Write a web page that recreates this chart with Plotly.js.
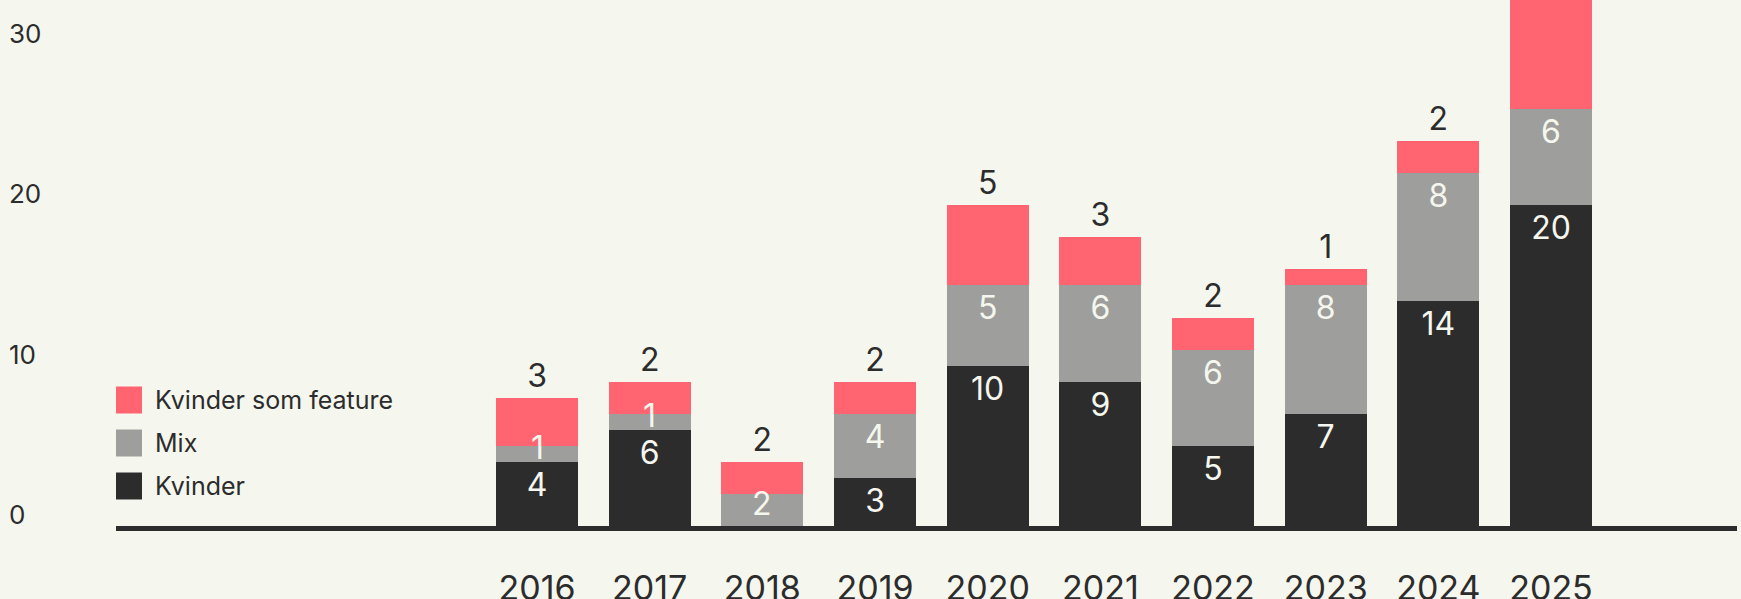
<!DOCTYPE html>
<html>
<head>
<meta charset="utf-8">
<script src="https://cdn.plot.ly/plotly-3.0.1.min.js"></script>
<style>
html,body{margin:0;padding:0;background:#f5f7ee;}
#chart{width:1741px;height:599px;}
</style>
</head>
<body>
<div id="chart"></div>
<script>
const years = [2016, 2017, 2018, 2019, 2020, 2021, 2022, 2023, 2024, 2025];
const kvinder = [4, 6, 0, 3, 10, 9, 5, 7, 14, 20];
const mix = [1, 1, 2, 4, 5, 6, 6, 8, 8, 6];
const feature = [3, 2, 2, 2, 5, 3, 2, 1, 2, 7];
const seriesNames = ['Kvinder', 'Mix', 'Kvinder som feature'];
const seriesColors = ['#2c2c2c', '#9e9e9c', '#ff6470'];
const yTicks = [0, 10, 20, 30];

const FONT = 'Inter, "Open Sans", sans-serif';
const BG = '#f5f7ee';
const DARK = '#2c2c2c';
const LABEL_SIZE = 32;

const W = 1741, H = 599;
const ML = 4, MR = 4, MT = 0, MB = 73;
const PW = W - ML - MR, PH = H - MT - MB;
const Y_MAX = 32.8;
const PX_PER_UNIT = PH / Y_MAX;
const px = x => (x - ML) / PW;
const py = y => (MT + PH - y) / PH;

const seriesData = [kvinder, mix, feature];
const bases = [];
let acc = years.map(() => 0);
seriesData.forEach(vals => { bases.push(acc.slice()); acc = acc.map((a, j) => a + vals[j]); });

const annots = [];
const traces = seriesData.map((vals, i) => {
  const isTop = i === seriesData.length - 1;
  const text = vals.map(v => v ? String(v) : '');
  let tpos;
  if (isTop) {
    tpos = 'outside';
  } else {
    tpos = vals.map((v, j) => {
      if (!v) return 'none';
      if (v * PX_PER_UNIT < 40) {
        // small segment: label placed around segment centre
        annots.push({
          xref: 'x', yref: 'y', x: years[j], y: bases[i][j] + v / 2,
          text: String(v), showarrow: false, yanchor: 'middle', yshift: 6,
          font: {family: FONT, size: LABEL_SIZE, color: BG}
        });
        return 'none';
      }
      return 'inside';
    });
  }
  return {
    type: 'bar',
    name: seriesNames[i],
    x: years,
    y: vals,
    text: text,
    textposition: tpos,
    insidetextanchor: 'end',
    constraintext: 'none',
    textangle: 0,
    cliponaxis: true,
    textfont: {family: FONT, size: LABEL_SIZE, color: isTop ? DARK : BG},
    insidetextfont: {family: FONT, size: LABEL_SIZE, color: BG},
    outsidetextfont: {family: FONT, size: LABEL_SIZE, color: DARK},
    marker: {color: seriesColors[i], line: {width: 0}},
    hoverinfo: 'x+y+name',
    showlegend: false
  };
});

// custom legend (top to bottom: feature, mix, kvinder)
const legendShapes = [];
const order = [2, 1, 0];
order.forEach((si, k) => {
  const cy = 400 + k * 43;
  legendShapes.push({
    type: 'rect', xref: 'paper', yref: 'paper',
    x0: px(116), x1: px(142),
    y0: py(cy + 13.5), y1: py(cy - 13.5),
    fillcolor: seriesColors[si], line: {width: 0}, layer: 'above'
  });
  annots.push({
    xref: 'paper', yref: 'paper',
    x: px(153), y: py(cy),
    xanchor: 'left', yanchor: 'middle',
    text: seriesNames[si], showarrow: false,
    font: {family: FONT, size: 25, color: DARK}
  });
});

const layout = {
  width: W, height: H,
  paper_bgcolor: BG, plot_bgcolor: BG,
  margin: {l: ML, r: MR, t: MT, b: MB, pad: 0},
  barmode: 'stack',
  bargap: 0.27,
  showlegend: false,
  font: {family: FONT, color: DARK},
  xaxis: {
    domain: [px(116), 1],
    type: 'linear',
    range: [2012.263, 2026.651],
    tickvals: years,
    ticktext: years.map(String),
    ticks: '',
    ticklabelstandoff: 28,
    tickfont: {family: FONT, size: 34, color: DARK},
    showgrid: false, zeroline: false,
    showline: true, linecolor: DARK, linewidth: 5,
    fixedrange: true
  },
  yaxis: {
    anchor: 'free', position: 0, side: 'right',
    range: [0, Y_MAX],
    tickvals: yTicks,
    ticktext: yTicks.map(String),
    ticks: '',
    ticklabelstandoff: 4,
    ticklabelshift: -11,
    tickfont: {family: FONT, size: 26, color: DARK},
    showgrid: false, zeroline: false, showline: false,
    fixedrange: true
  },
  shapes: legendShapes,
  annotations: annots
};

Plotly.newPlot('chart', traces, layout, {displayModeBar: false, staticPlot: true});
</script>
</body>
</html>
